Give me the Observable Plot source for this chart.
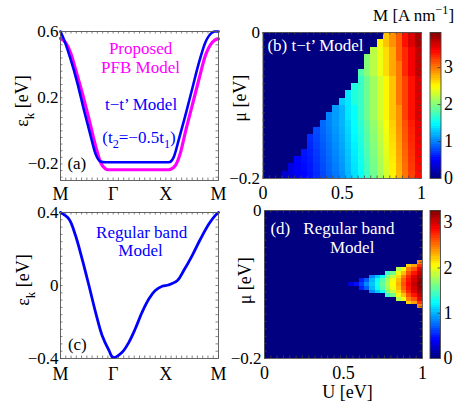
<!DOCTYPE html>
<html><head><meta charset="utf-8">
<script src="https://cdn.jsdelivr.net/npm/d3@7"></script>
<script src="https://cdn.jsdelivr.net/npm/@observablehq/plot@0.6"></script>
<style>
body{margin:0;background:#fff;}
#chart{position:relative;width:471px;height:412px;overflow:hidden;background:#fff;}
#chart svg{position:absolute;left:0;top:0;max-width:none;background:transparent;overflow:visible;}
</style></head><body><div id="chart"></div>
<script>
// ---------------- data ----------------
const kTicks = [0, 1, 2, 3];
const kLabels = ["M", "Γ", "X", "M"];

// (a) t-t' model band (blue)
const ttK = [0, 0.063, 0.19, 0.317, 0.44, 0.57, 0.665, 0.76, 0.85, 2.06, 2.15, 2.25, 2.37, 2.5, 2.63, 2.75, 2.88, 2.93, 3];
const ttE = [0.6, 0.554, 0.434, 0.293, 0.132, -0.028, -0.139, -0.185, -0.19, -0.19, -0.159, -0.048, 0.092, 0.253, 0.413, 0.534, 0.594, 0.6, 0.6];
// (a) proposed PFB model band (magenta)
const pfbK = [0, 0.095, 0.19, 0.285, 0.41, 0.54, 0.665, 0.76, 0.855, 0.9, 2.05, 2.09, 2.18, 2.28, 2.37, 2.5, 2.63, 2.75, 2.88, 2.97, 3];
const pfbE = [0.558, 0.534, 0.473, 0.373, 0.232, 0.072, -0.089, -0.19, -0.23, -0.235, -0.235, -0.232, -0.21, -0.13, -0.009, 0.152, 0.313, 0.454, 0.534, 0.554, 0.555];
const yTicksA = [0.6, 0.2, -0.2];
const yLabelsA = ["0.6", "0.2", "−0.2"];

// (c) regular band
const regK = [0, 0.158, 0.285, 0.41, 0.54, 0.665, 0.79, 0.92, 1.0, 1.17, 1.3, 1.42, 1.55, 1.68, 1.8, 1.93, 2.05, 2.22, 2.34, 2.5, 2.66, 2.82, 2.94, 3];
const regE = [0.4, 0.365, 0.274, 0.146, 0.0, -0.146, -0.274, -0.356, -0.395, -0.366, -0.31, -0.237, -0.146, -0.073, -0.027, -0.004, 0.003, 0.027, 0.082, 0.164, 0.256, 0.338, 0.384, 0.4];
const yTicksC = [0.4, 0, -0.4];
const yLabelsC = ["0.4", "0", "−0.4"];

// (b) M(U, mu) for t-t' model: 25 U columns (0..1), 20 mu rows from mu=0 (top) to -0.2 (bottom)
// bStart = first non-zero column of each row; bRows = values from that column to U=1
const bStart = [19,18,17,16,16,15,15,14,13,12,11,10,9,8,7,7,6,5,4,3];
const bRows = [
 [2.7,2.9,3.1,3.4,3.6,3.8],
 [2.5,2.7,2.9,3.1,3.4,3.6,3.8],
 [2.2,2.4,2.6,2.8,3.1,3.3,3.5,3.7],
 [2.0,2.2,2.4,2.6,2.8,3.1,3.3,3.5,3.7],
 [2.0,2.2,2.4,2.6,2.8,3.0,3.3,3.5,3.7],
 [1.8,2.0,2.2,2.4,2.6,2.8,3.0,3.3,3.5,3.7],
 [1.7,1.9,2.1,2.3,2.5,2.7,3.0,3.2,3.4,3.6],
 [1.6,1.7,1.9,2.1,2.3,2.5,2.7,3.0,3.2,3.4,3.6],
 [1.4,1.6,1.7,1.9,2.1,2.3,2.5,2.7,3.0,3.2,3.4,3.6],
 [1.3,1.4,1.6,1.7,1.9,2.1,2.3,2.5,2.7,3.0,3.2,3.4,3.6],
 [1.1,1.2,1.4,1.5,1.7,1.9,2.1,2.3,2.5,2.7,2.9,3.2,3.4,3.6],
 [1.0,1.1,1.2,1.4,1.5,1.7,1.9,2.1,2.3,2.5,2.7,2.9,3.2,3.4,3.6],
 [0.9,1.0,1.1,1.2,1.35,1.5,1.65,1.85,2.05,2.25,2.45,2.65,2.9,3.15,3.35,3.55],
 [0.78,0.88,0.98,1.08,1.18,1.33,1.48,1.63,1.83,2.03,2.23,2.43,2.63,2.88,3.13,3.33,3.53],
 [0.66,0.76,0.86,0.96,1.06,1.16,1.31,1.46,1.61,1.81,2.01,2.21,2.41,2.61,2.86,3.11,3.31,3.51],
 [0.64,0.74,0.84,0.94,1.04,1.14,1.29,1.44,1.59,1.79,1.99,2.19,2.39,2.59,2.84,3.09,3.29,3.49],
 [0.57,0.62,0.72,0.82,0.92,1.02,1.12,1.27,1.42,1.57,1.77,1.97,2.17,2.37,2.57,2.82,3.07,3.27,3.47],
 [0.50,0.55,0.60,0.70,0.80,0.90,1.00,1.10,1.25,1.40,1.55,1.75,1.95,2.15,2.35,2.55,2.80,3.05,3.25,3.45],
 [0.38,0.48,0.53,0.58,0.68,0.78,0.88,0.98,1.08,1.23,1.38,1.53,1.73,1.93,2.13,2.33,2.53,2.78,3.03,3.23,3.43],
 [0.31,0.36,0.46,0.51,0.56,0.66,0.76,0.86,0.96,1.06,1.21,1.36,1.51,1.71,1.91,2.11,2.31,2.51,2.76,3.01,3.21,3.41]
];
const bMax = 3.95;

// (d) M(U, mu) for regular band: columns U = 16/30 .. 1 (14 cols), rows mu = -0.07 .. -0.13 (step 0.005)
const dCol0 = 16, dNCols = 30;
const dRowMu = [-0.07,-0.075,-0.08,-0.085,-0.09,-0.095,-0.1,-0.105,-0.11,-0.115,-0.12,-0.125,-0.13];
const dRows = [
 [0,0,0,0,0,0,0,0,0,0,0,0,0,2.45],
 [0,0,0,0,0,0,0,0,0,0,0,2.2,2.35,2.7],
 [0,0,0,0,0,0,0,0,0,1.8,2.0,2.45,2.6,2.9],
 [0,0,0,0,0,0,0,1.4,1.6,2.0,2.25,2.6,2.8,3.05],
 [0,0,0,0,0.85,1.05,1.25,1.65,1.85,2.15,2.45,2.75,2.95,3.15],
 [0,0,0.5,0.7,1.0,1.25,1.5,1.75,2.0,2.25,2.55,2.8,3.0,3.2],
 [0.3,0.45,0.6,0.85,1.05,1.3,1.55,1.8,2.05,2.3,2.6,2.85,3.05,3.25],
 [0,0,0.5,0.7,1.0,1.25,1.5,1.75,2.0,2.25,2.55,2.8,3.0,3.2],
 [0,0,0,0,0.85,1.05,1.25,1.65,1.85,2.15,2.45,2.75,2.95,3.15],
 [0,0,0,0,0,0,0,1.4,1.6,2.0,2.25,2.6,2.8,3.05],
 [0,0,0,0,0,0,0,0,0,1.8,2.0,2.45,2.6,2.9],
 [0,0,0,0,0,0,0,0,0,0,0,2.2,2.35,2.7],
 [0,0,0,0,0,0,0,0,0,0,0,0,0,2.45]
];
const dMax = 3.27;

const uTicks = [0, 0.5, 1];
const uLabels = ["0", "0.5", "1"];
const muTicks = [0, -0.2];
const muLabels = ["0", "−0.2"];
const cbTicks = [0, 1, 2, 3];

// ---------------- helpers ----------------
const FONT = "'Liberation Serif','Times New Roman',Times,serif";
const W = 471, H = 412;
const NS = "http://www.w3.org/2000/svg";
function jet(t) {
  const c = v => Math.max(0, Math.min(1, v));
  const r = c(1.5 - Math.abs(4 * t - 3)), g = c(1.5 - Math.abs(4 * t - 2)), b = c(1.5 - Math.abs(4 * t - 1));
  return `rgb(${Math.round(r * 255)},${Math.round(g * 255)},${Math.round(b * 255)})`;
}
function frameOpts(f) {
  return {width: W, height: H, marginLeft: f.l, marginRight: W - f.r, marginTop: f.t, marginBottom: H - f.b,
    style: {fontFamily: FONT, background: "transparent", overflow: "visible", color: "#000"}};
}
function edgeTicks(f, xs, ys, len, stroke) {
  const fw = f.r - f.l, fh = f.b - f.t;
  return [
    Plot.tickX(xs, {x: d => d, insetTop: fh - len, stroke, strokeWidth: 0.8}),
    Plot.tickX(xs, {x: d => d, insetBottom: fh - len, stroke, strokeWidth: 0.8}),
    Plot.tickY(ys, {y: d => d, insetRight: fw - len, stroke, strokeWidth: 0.8}),
    Plot.tickY(ys, {y: d => d, insetLeft: fw - len, stroke, strokeWidth: 0.8})
  ];
}
function richText(svg) {
  svg.querySelectorAll("text").forEach(el => {
    const s = el.textContent;
    if (!/[_^]\{/.test(s)) return;
    const fs = parseFloat(getComputedStyle(el).fontSize) || 16;
    while (el.firstChild) el.removeChild(el.firstChild);
    let cur = 0;
    s.split(/([_^]\{[^}]*\})/).forEach(part => {
      if (!part) return;
      let target = 0, txt = part, size = null;
      if (part[0] === "_") { target = 0.3 * fs; txt = part.slice(2, -1); size = 0.72 * fs; }
      else if (part[0] === "^") { target = -0.42 * fs; txt = part.slice(2, -1); size = 0.72 * fs; }
      const t = document.createElementNS(NS, "tspan");
      t.setAttribute("dy", target - cur); cur = target;
      if (size) t.setAttribute("font-size", size);
      t.textContent = txt;
      el.appendChild(t);
    });
  });
}
const chart = document.getElementById("chart");
function add(p) { chart.appendChild(p); richText(p); }
const zip = (a, b) => a.map((v, i) => ({k: v, e: b[i]}));

// ---------------- panel (a) ----------------
const fA = {l: 60, r: 218, t: 31, b: 180};
add(Plot.plot({
  ...frameOpts(fA),
  x: {domain: [0, 3], axis: null},
  y: {domain: [-0.3, 0.6], axis: null},
  marks: [
    ...edgeTicks(fA, d3.range(0, 3.001, 0.1), d3.range(-0.28, 0.6, 0.04), 2.5, "#666"),
    Plot.line(zip(pfbK, pfbE), {x: "k", y: "e", stroke: "#ff00ff", strokeWidth: 3.2, curve: "monotone-x"}),
    Plot.line(zip(ttK, ttE), {x: "k", y: "e", stroke: "#0000ff", strokeWidth: 2.6, curve: "monotone-x"}),
    Plot.frame({stroke: "#555", strokeWidth: 0.9}),
    Plot.text(yTicksA, {x: 0, y: d => d, text: (d, i) => yLabelsA[i], textAnchor: "end", dx: -2, fontSize: 17}),
    Plot.text(kTicks, {x: d => d, y: -0.3, text: (d, i) => kLabels[i], dy: 14, fontSize: 18}),
    Plot.text(["ε_{k} [eV]"], {x: 0, y: 0.18, dx: -38, rotate: -90, text: d => d, fontSize: 18}),
    Plot.text(["Proposed", "PFB Model"], {x: [1.52, 1.52], y: [0.496, 0.383], text: d => d, fill: "#ff00ff", fontSize: 17}),
    Plot.text(["t−t’ Model", "(t_{2}=−0.5t_{1})"], {x: [1.53, 1.49], y: [0.158, -0.039], text: d => d, fill: "#0000ff", fontSize: 17}),
    Plot.text(["(a)"], {x: 0.31, y: -0.2, text: d => d, fill: "#000", fontSize: 17})
  ]
}));

// ---------------- panel (c) ----------------
const fC = {l: 60, r: 218, t: 212, b: 358};
add(Plot.plot({
  ...frameOpts(fC),
  x: {domain: [0, 3], axis: null},
  y: {domain: [-0.4, 0.4], axis: null},
  marks: [
    ...edgeTicks(fC, d3.range(0, 3.001, 0.1), d3.range(-0.4, 0.401, 0.04), 2.5, "#666"),
    Plot.line(zip(regK, regE), {x: "k", y: "e", stroke: "#0000ff", strokeWidth: 2.8, curve: "catmull-rom"}),
    Plot.frame({stroke: "#555", strokeWidth: 0.9}),
    Plot.text(yTicksC, {x: 0, y: d => d, text: (d, i) => yLabelsC[i], textAnchor: "end", dx: -2, fontSize: 17}),
    Plot.text(kTicks, {x: d => d, y: -0.4, text: (d, i) => kLabels[i], dy: 16, fontSize: 18}),
    Plot.text(["ε_{k} [eV]"], {x: 0, y: 0.03, dx: -37, rotate: -90, text: d => d, fontSize: 18}),
    Plot.text(["Regular band", "Model"], {x: [1.54, 1.52], y: [0.292, 0.192], text: d => d, fill: "#0000ff", fontSize: 17}),
    Plot.text(["(c)"], {x: 0.32, y: -0.325, text: d => d, fill: "#000", fontSize: 17})
  ]
}));

// ---------------- panel (b) ----------------
const fB = {l: 262.5, r: 421, t: 32, b: 178};
const nUB = 25, nMuB = bRows.length;
const cellsB = [];
bRows.forEach((vals, r) => {
  for (let j = 0; j < nUB; j++) {
    cellsB.push({u1: j / nUB, u2: (j + 1) / nUB, m1: -0.2 * (r + 1) / nMuB, m2: -0.2 * r / nMuB,
      v: j < bStart[r] ? 0 : vals[j - bStart[r]]});
  }
});
add(Plot.plot({
  ...frameOpts(fB),
  x: {domain: [0, 1], axis: null},
  y: {domain: [-0.2, 0], axis: null},
  color: {type: "linear", domain: [0, bMax], interpolate: jet},
  marks: [
    Plot.rect(cellsB, {x1: "u1", x2: "u2", y1: "m1", y2: "m2", fill: "v", shapeRendering: "crispEdges"}),
    ...edgeTicks(fB, d3.range(0, 1.001, 0.04), d3.range(-0.2, 0.001, 0.01), 2.5, "#444"),
    Plot.frame({stroke: "#555", strokeWidth: 0.9}),
    Plot.text(muTicks, {x: 0, y: d => d, text: (d, i) => muLabels[i], textAnchor: "end", dx: -3, fontSize: 17}),
    Plot.text(uTicks, {x: d => d, y: -0.2, text: (d, i) => uLabels[i], dy: 15, fontSize: 18}),
    Plot.text(["μ [eV]"], {x: 0, y: -0.09, dx: -23, rotate: -90, text: d => d, fontSize: 18}),
    Plot.text(["(b) t−t’ Model"], {x: 0.028, y: -0.018, text: d => d, textAnchor: "start", fill: "#fff", fontSize: 17}),
    Plot.text(["M [A nm^{−1}]"], {x: 0.95, y: 0, dy: -17, text: d => d, fontSize: 17})
  ]
}));

// colorbar (b)
const fBc = {l: 429.5, r: 440.5, t: 32, b: 178};
const barB = d3.range(64).map(i => ({y1: bMax * i / 64, y2: bMax * (i + 1) / 64, v: bMax * (i + 0.5) / 64}));
add(Plot.plot({
  ...frameOpts(fBc),
  x: {domain: [0, 1], axis: null},
  y: {domain: [0, bMax], axis: null},
  color: {type: "linear", domain: [0, bMax], interpolate: jet},
  marks: [
    Plot.rect(barB, {x1: 0, x2: 1, y1: "y1", y2: "y2", fill: "v", shapeRendering: "crispEdges"}),
    Plot.tickY(cbTicks.slice(1), {y: d => d, insetLeft: 8, stroke: "#333", strokeWidth: 0.8}),
    Plot.frame({stroke: "#444", strokeWidth: 0.9}),
    Plot.text(cbTicks, {x: 1, y: d => d, text: d => String(d), textAnchor: "start", dx: 3, fontSize: 18})
  ]
}));

// ---------------- panel (d) ----------------
const fD = {l: 264, r: 422, t: 210, b: 358};
const cellsD = [];
dRows.forEach((vals, r) => {
  vals.forEach((v, j) => {
    cellsD.push({u1: (dCol0 + j) / dNCols, u2: (dCol0 + j + 1) / dNCols, m1: dRowMu[r] - 0.0025, m2: dRowMu[r] + 0.0025, v});
  });
});
add(Plot.plot({
  ...frameOpts(fD),
  x: {domain: [0, 1], axis: null},
  y: {domain: [-0.2, 0], axis: null},
  color: {type: "linear", domain: [0, dMax], interpolate: jet},
  marks: [
    Plot.rect([{v: 0}], {x1: 0, x2: 1, y1: -0.2, y2: 0, fill: "v"}),
    Plot.rect(cellsD, {x1: "u1", x2: "u2", y1: "m1", y2: "m2", fill: "v", shapeRendering: "crispEdges"}),
    ...edgeTicks(fD, d3.range(0, 1.001, 0.04), d3.range(-0.2, 0.001, 0.01), 2.5, "#444"),
    Plot.frame({stroke: "#555", strokeWidth: 0.9}),
    Plot.text(muTicks, {x: 0, y: d => d, text: (d, i) => muLabels[i], textAnchor: "end", dx: -3, fontSize: 17}),
    Plot.text(uTicks, {x: d => d, y: -0.2, text: (d, i) => uLabels[i], dy: 15, fontSize: 18}),
    Plot.text(["μ [eV]"], {x: 0, y: -0.095, dx: -19, rotate: -90, text: d => d, fontSize: 18}),
    Plot.text(["U [eV]"], {x: 0.525, y: -0.2, dy: 34, text: d => d, fontSize: 18}),
    Plot.text(["(d)"], {x: 0.1, y: -0.0247, text: d => d, fill: "#fff", fontSize: 17}),
    Plot.text(["Regular band", "Model"], {x: [0.534, 0.555], y: [-0.0247, -0.0496], text: d => d, fill: "#fff", fontSize: 17})
  ]
}));

// colorbar (d)
const fDc = {l: 429.5, r: 440, t: 210, b: 358};
const barD = d3.range(64).map(i => ({y1: dMax * i / 64, y2: dMax * (i + 1) / 64, v: dMax * (i + 0.5) / 64}));
add(Plot.plot({
  ...frameOpts(fDc),
  x: {domain: [0, 1], axis: null},
  y: {domain: [0, dMax], axis: null},
  color: {type: "linear", domain: [0, dMax], interpolate: jet},
  marks: [
    Plot.rect(barD, {x1: 0, x2: 1, y1: "y1", y2: "y2", fill: "v", shapeRendering: "crispEdges"}),
    Plot.tickY(cbTicks.slice(1), {y: d => d, insetLeft: 8, stroke: "#333", strokeWidth: 0.8}),
    Plot.frame({stroke: "#444", strokeWidth: 0.9}),
    Plot.text(cbTicks, {x: 1, y: d => d, text: d => String(d), textAnchor: "start", dx: 3, fontSize: 18})
  ]
}));
</script></body></html>
